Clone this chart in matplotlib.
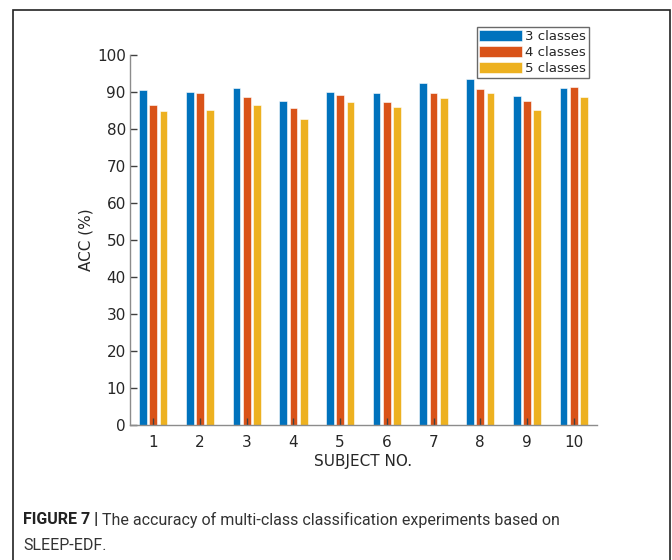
import matplotlib
matplotlib.use("Agg")
import matplotlib.pyplot as plt
import numpy as np
from matplotlib.patches import Rectangle

subjects = ["1", "2", "3", "4", "5", "6", "7", "8", "9", "10"]
acc3 = [90.6, 90.0, 91.0, 87.5, 90.0, 89.8, 92.5, 93.4, 88.9, 91.0]
acc4 = [86.4, 89.6, 88.6, 85.6, 89.3, 87.3, 89.7, 90.8, 87.6, 91.3]
acc5 = [85.0, 85.1, 86.4, 82.6, 87.2, 85.9, 88.3, 89.8, 85.1, 88.6]
series_labels = ["3 classes", "4 classes", "5 classes"]
colors = ["#0072BD", "#D95319", "#EDB120"]

plt.rcParams["font.family"] = ["DejaVu Sans"]
cap_font = "Roboto"

W, H = 672, 560
fig = plt.figure(figsize=(W / 100, H / 100), dpi=100)
fig.patch.set_facecolor("white")

# outer frame
fig.add_artist(Rectangle((13 / W, -0.1), (670 - 13) / W, 1 - 10 / H + 0.1,
                         transform=fig.transFigure, fill=False,
                         edgecolor="#222222", linewidth=1.2))

ax_l, ax_r, ax_t, ax_b = 130, 597, 55, 425
ax = fig.add_axes([ax_l / W, 1 - ax_b / H, (ax_r - ax_l) / W, (ax_b - ax_t) / H])

x = np.arange(1, len(subjects) + 1)
offs = 0.22
bw = 0.165
for i, (vals, c, lab) in enumerate(zip([acc3, acc4, acc5], colors, series_labels)):
    ax.bar(x + (i - 1) * offs, vals, width=bw, color=c, label=lab,
           edgecolor="white", linewidth=0.4)

ax.set_xlim(0.5, 10.5)
ax.set_ylim(0, 100)
ax.set_xticks(x)
ax.set_xticklabels(subjects)
ax.set_yticks(np.arange(0, 101, 10))
for s in ["top", "right"]:
    ax.spines[s].set_visible(False)
for s in ["left", "bottom"]:
    ax.spines[s].set_color("#8c8c8c")
    ax.spines[s].set_linewidth(1.0)
ax.tick_params(direction="in", length=5, width=1, color="#404040",
               labelsize=11, labelcolor="#262626")
ax.tick_params(axis="x", pad=7)
ax.tick_params(axis="y", pad=3)
ax.set_xlabel("SUBJECT NO.", fontsize=11, color="#262626", labelpad=3)
ax.set_ylabel("ACC (%)", fontsize=11, color="#262626")
ax.yaxis.set_label_coords(-0.079, 0.5)

leg = fig.legend(loc="upper right", bbox_to_anchor=(589 / W, 1 - 27 / H),
                 fontsize=9.5, frameon=True, fancybox=False,
                 handlelength=3.2, handleheight=0.9, handletextpad=0.3,
                 labelspacing=0.25, borderpad=0.2, borderaxespad=0)
leg.get_frame().set_edgecolor("#444444")
leg.get_frame().set_linewidth(1.0)
for t in leg.get_texts():
    t.set_color("#262626")

# caption
cap_size = 11.5
t1 = fig.text(23 / W, 1 - 520 / H, "FIGURE 7 | ", fontsize=cap_size, fontweight="bold",
              family=cap_font, color="#222222", va="center", ha="left")
fig.canvas.draw()
bb = t1.get_window_extent()
fig.text(bb.x1 / W, 1 - 520 / H, "The accuracy of multi-class classification experiments based on",
         fontsize=cap_size, family=cap_font, color="#333333", va="center", ha="left")
fig.text(23 / W, 1 - 545 / H, "SLEEP-EDF.", fontsize=cap_size, family=cap_font,
         color="#333333", va="center", ha="left")

fig.savefig("out.png", dpi=100, facecolor="white")
